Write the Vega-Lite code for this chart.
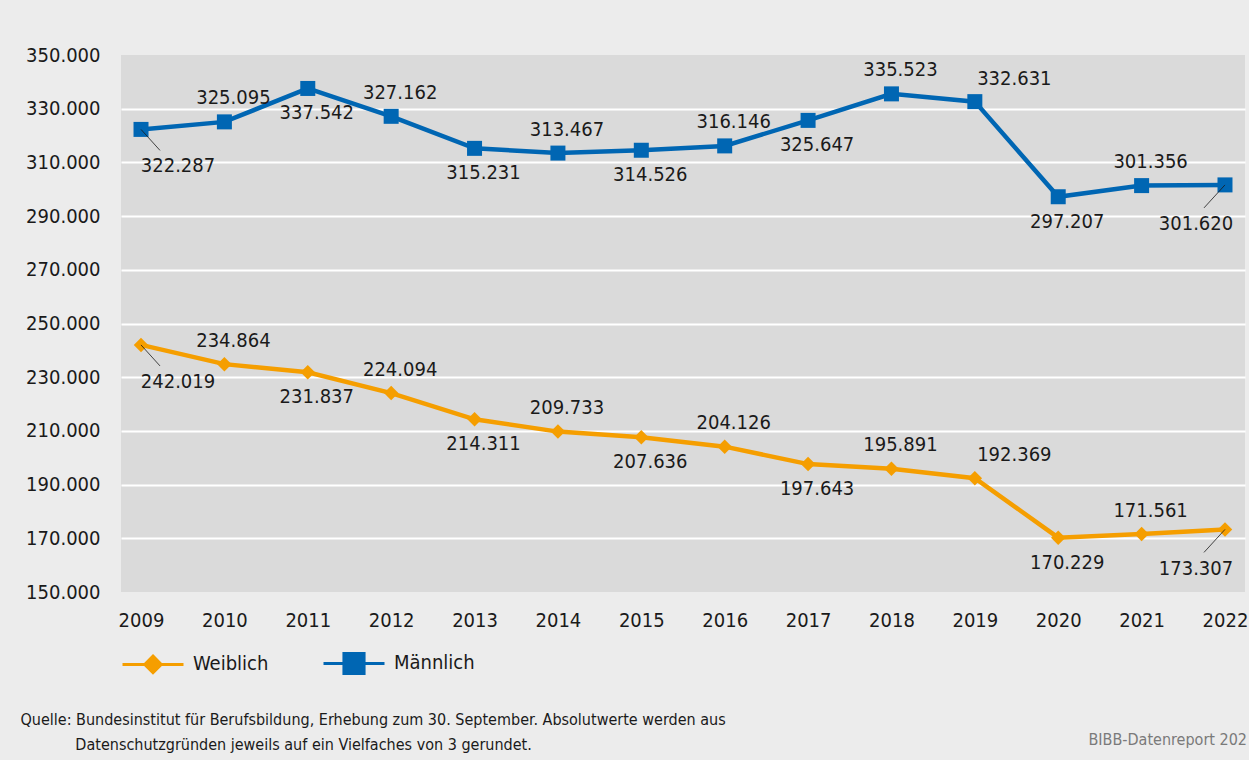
{
  "$schema": "https://vega.github.io/schema/vega-lite/v6.json",
  "width": 1124,
  "height": 537,
  "autosize": {"type": "none"},
  "padding": {"left": 121, "top": 55, "right": 4, "bottom": 168},
  "background": "#ececec",
  "config": {
    "locale": {"number": {"decimal": ",", "thousands": ".", "grouping": [3], "currency": ["", " €"]}},
    "view": {"fill": "#dadada", "stroke": null},
    "font": "DejaVu Sans Condensed, DejaVu Sans, sans-serif",
    "text": {"font": "DejaVu Sans Condensed, DejaVu Sans, sans-serif", "fontSize": 20}
  },
  "title": {
    "text": "BIBB-Datenreport 202",
    "orient": "bottom",
    "anchor": "end",
    "frame": "group",
    "font": "DejaVu Sans Condensed, DejaVu Sans, sans-serif",
    "fontSize": 16,
    "fontWeight": "normal",
    "color": "#7a7a7a",
    "offset": 0,
    "dx": 2,
    "dy": -20
  },
  "data": {
    "values": [
      {"year": 2009, "series": "Weiblich", "value": 242019},
      {"year": 2010, "series": "Weiblich", "value": 234864},
      {"year": 2011, "series": "Weiblich", "value": 231837},
      {"year": 2012, "series": "Weiblich", "value": 224094},
      {"year": 2013, "series": "Weiblich", "value": 214311},
      {"year": 2014, "series": "Weiblich", "value": 209733},
      {"year": 2015, "series": "Weiblich", "value": 207636},
      {"year": 2016, "series": "Weiblich", "value": 204126},
      {"year": 2017, "series": "Weiblich", "value": 197643},
      {"year": 2018, "series": "Weiblich", "value": 195891},
      {"year": 2019, "series": "Weiblich", "value": 192369},
      {"year": 2020, "series": "Weiblich", "value": 170229},
      {"year": 2021, "series": "Weiblich", "value": 171561},
      {"year": 2022, "series": "Weiblich", "value": 173307},
      {"year": 2009, "series": "Männlich", "value": 322287},
      {"year": 2010, "series": "Männlich", "value": 325095},
      {"year": 2011, "series": "Männlich", "value": 337542},
      {"year": 2012, "series": "Männlich", "value": 327162},
      {"year": 2013, "series": "Männlich", "value": 315231},
      {"year": 2014, "series": "Männlich", "value": 313467},
      {"year": 2015, "series": "Männlich", "value": 314526},
      {"year": 2016, "series": "Männlich", "value": 316146},
      {"year": 2017, "series": "Männlich", "value": 325647},
      {"year": 2018, "series": "Männlich", "value": 335523},
      {"year": 2019, "series": "Männlich", "value": 332631},
      {"year": 2020, "series": "Männlich", "value": 297207},
      {"year": 2021, "series": "Männlich", "value": 301356},
      {"year": 2022, "series": "Männlich", "value": 301620}
    ]
  },
  "encoding": {
    "x": {
      "field": "year",
      "type": "ordinal",
      "scale": {"type": "point", "padding": 0.24},
      "axis": {
        "labelAngle": 0,
        "domain": false,
        "ticks": false,
        "grid": false,
        "labelPadding": 18,
        "labelFontSize": 20,
        "labelColor": "#1a1a1a",
        "labelFont": "DejaVu Sans Condensed, DejaVu Sans, sans-serif",
        "title": ["Quelle: Bundesinstitut für Berufsbildung, Erhebung zum 30. September. Absolutwerte werden aus", "\u200d\u00a0\u00a0\u00a0\u00a0\u00a0\u00a0\u00a0\u00a0\u00a0\u00a0\u00a0\u00a0Datenschutzgründen jeweils auf ein Vielfaches von 3 gerundet."],
        "titleX": -101,
        "titleY": 132,
        "titleAlign": "left",
        "titleAnchor": "start",
        "titleBaseline": "alphabetic",
        "titleFont": "DejaVu Sans Condensed, DejaVu Sans, sans-serif",
        "titleFontSize": 16,
        "titleFontWeight": "normal",
        "titleLineHeight": 25,
        "titleColor": "#1a1a1a"
      }
    },
    "y": {
      "field": "value",
      "type": "quantitative",
      "scale": {"domain": [150000, 350000], "nice": false, "zero": false},
      "axis": {
        "values": [150000, 170000, 190000, 210000, 230000, 250000, 270000, 290000, 310000, 330000, 350000],
        "format": ",d",
        "domain": false,
        "ticks": false,
        "grid": true,
        "gridColor": "#ffffff",
        "gridWidth": 2,
        "gridOpacity": {"condition": {"test": "datum.value === 150000 || datum.value === 350000", "value": 0}, "value": 1},
        "labelPadding": 21,
        "labelFontSize": 20,
        "labelColor": "#1a1a1a",
        "labelFont": "DejaVu Sans Condensed, DejaVu Sans, sans-serif",
        "title": null
      }
    },
    "color": {
      "field": "series",
      "type": "nominal",
      "scale": {"domain": ["Weiblich", "Männlich"], "range": ["#f59e00", "#0066b3"]},
      "legend": null
    }
  },
  "layer": [
    {
      "mark": {"type": "line", "strokeWidth": 4.5},
      "encoding": {
        "color": {
          "field": "series",
          "type": "nominal",
          "scale": {"domain": ["Weiblich", "Männlich"], "range": ["#f59e00", "#0066b3"]},
          "legend": {
            "orient": "none",
            "legendX": 0,
            "legendY": 576,
            "direction": "horizontal",
            "title": null,
            "symbolSize": 3721,
            "symbolStrokeWidth": 3,
            "symbolOffset": 0,
            "labelOffset": 8,
            "columnPadding": 48,
            "labelFontSize": 20,
            "labelColor": "#1a1a1a",
            "labelFont": "DejaVu Sans Condensed, DejaVu Sans, sans-serif",
            "encode": {
              "symbols": {
                "update": {
                  "shape": {"signal": "datum.value === 'Weiblich' ? 'M-1,0L1,0M0,-0.27L0.27,0L0,0.27L-0.27,0Z' : 'M-1,0L1,0M-0.33,-0.33L0.33,-0.33L0.33,0.33L-0.33,0.33Z'"},
                  "fill": {"signal": "scale('color', datum.value)"},
                  "stroke": {"signal": "scale('color', datum.value)"},
                  "strokeWidth": {"value": 3},
                  "opacity": {"value": 1}
                }
              }
            }
          }
        }
      }
    },
    {
      "transform": [{"filter": "datum.series === 'Weiblich'"}],
      "mark": {"type": "point", "shape": "diamond", "filled": true, "opacity": 1, "size": 210}
    },
    {
      "transform": [{"filter": "datum.series === 'Männlich'"}],
      "mark": {"type": "point", "shape": "square", "filled": true, "opacity": 1, "size": 225}
    },
    {
      "transform": [{"filter": "datum.year === 2009"}],
      "mark": {"type": "rule", "strokeWidth": 0.8, "x2Offset": 19, "y2Offset": 21},
      "encoding": {
        "x2": {"field": "year"},
        "y2": {"field": "value"},
        "color": {"value": "#1a1a1a"}
      }
    },
    {
      "transform": [{"filter": "datum.year === 2022"}],
      "mark": {"type": "rule", "strokeWidth": 0.8, "x2Offset": -21, "y2Offset": 23},
      "encoding": {
        "x2": {"field": "year"},
        "y2": {"field": "value"},
        "color": {"value": "#1a1a1a"}
      }
    },
    {
      "transform": [{"filter": {"field": "year", "oneOf": [2010, 2012, 2014, 2016, 2018, 2021]}}],
      "mark": {"type": "text", "align": "center", "baseline": "middle", "dx": 9, "dy": -23.5},
      "encoding": {
        "text": {"field": "value", "type": "quantitative", "format": ",d"},
        "color": {"value": "#1a1a1a"}
      }
    },
    {
      "transform": [{"filter": {"field": "year", "oneOf": [2011, 2013, 2015, 2017, 2020]}}],
      "mark": {"type": "text", "align": "center", "baseline": "middle", "dx": 9, "dy": 25},
      "encoding": {
        "text": {"field": "value", "type": "quantitative", "format": ",d"},
        "color": {"value": "#1a1a1a"}
      }
    },
    {
      "transform": [{"filter": "datum.year === 2019"}],
      "mark": {"type": "text", "align": "center", "baseline": "middle", "dx": 39.5, "dy": -23},
      "encoding": {
        "text": {"field": "value", "type": "quantitative", "format": ",d"},
        "color": {"value": "#1a1a1a"}
      }
    },
    {
      "transform": [{"filter": "datum.year === 2009"}],
      "mark": {"type": "text", "align": "center", "baseline": "middle", "dx": 37, "dy": 37},
      "encoding": {
        "text": {"field": "value", "type": "quantitative", "format": ",d"},
        "color": {"value": "#1a1a1a"}
      }
    },
    {
      "transform": [{"filter": "datum.year === 2022"}],
      "mark": {"type": "text", "align": "center", "baseline": "middle", "dx": -29, "dy": 39.5},
      "encoding": {
        "text": {"field": "value", "type": "quantitative", "format": ",d"},
        "color": {"value": "#1a1a1a"}
      }
    }
  ]
}
